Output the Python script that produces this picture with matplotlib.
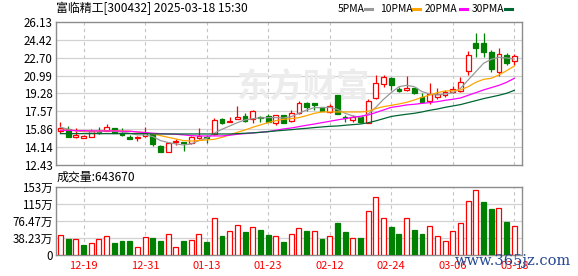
import matplotlib
matplotlib.use('Agg')
import matplotlib.pyplot as plt
from matplotlib.lines import Line2D

plt.rcParams['font.family'] = ['Noto Sans CJK SC', 'DejaVu Sans']

# trading days shown in the chart
dates = ['12-16', '12-17', '12-18', '12-19', '12-20', '12-23', '12-24', '12-25', '12-26', '12-27',
         '12-30', '12-31', '01-02', '01-03', '01-06', '01-07', '01-08', '01-09', '01-10', '01-13',
         '01-14', '01-15', '01-16', '01-17', '01-20', '01-21', '01-22', '01-23', '01-24', '01-27',
         '02-05', '02-06', '02-07', '02-10', '02-11', '02-12', '02-13', '02-14', '02-17', '02-18',
         '02-19', '02-20', '02-21', '02-24', '02-25', '02-26', '02-27', '02-28', '03-03', '03-04',
         '03-05', '03-06', '03-07', '03-10', '03-11', '03-12', '03-13', '03-14', '03-17', '03-18']

opens = [15.66, 15.87, 15.10, 15.07, 15.17, 15.61, 15.74, 15.96, 15.55, 15.14,
         15.01, 15.23, 15.42, 14.28, 13.71, 14.69, 14.63, 14.53, 15.07, 15.10,
         15.39, 16.85, 16.60, 16.88, 17.14, 16.85, 17.04, 17.17, 16.44, 17.26,
         16.69, 17.39, 18.41, 18.34, 17.96, 17.55, 19.14, 17.07, 16.76, 17.04,
         16.50, 18.82, 20.16, 20.79, 19.68, 19.62, 19.84, 18.98, 18.54, 18.92,
         19.17, 19.43, 19.55, 21.46, 24.10, 24.10, 23.27, 21.36, 22.98, 22.35]
highs = [16.60, 16.18, 15.96, 15.33, 15.87, 16.06, 16.37, 15.96, 15.96, 15.33,
         15.26, 16.06, 15.49, 14.34, 14.69, 14.98, 14.66, 15.26, 16.03, 15.33,
         16.98, 16.92, 17.07, 18.09, 17.39, 17.71, 17.11, 17.30, 17.23, 17.26,
         17.71, 18.60, 18.50, 18.41, 18.00, 18.28, 19.14, 17.23, 17.23, 17.07,
         18.76, 21.05, 21.05, 20.89, 19.93, 20.95, 19.84, 19.30, 20.25, 19.77,
         19.62, 20.00, 20.89, 23.33, 25.02, 25.02, 23.43, 23.59, 23.11, 23.05]
lows = [15.49, 15.15, 15.08, 15.01, 15.15, 15.42, 15.66, 15.53, 15.26, 14.91,
        14.79, 15.17, 14.28, 13.72, 13.67, 14.34, 13.83, 14.44, 14.94, 14.60,
        15.33, 16.41, 16.53, 16.85, 16.53, 16.44, 16.60, 16.53, 16.31, 16.44,
        16.60, 17.30, 17.65, 17.71, 17.62, 17.39, 17.33, 16.60, 16.60, 16.44,
        16.44, 18.76, 19.93, 19.62, 19.39, 19.52, 19.24, 18.41, 18.28, 18.76,
        18.92, 19.30, 19.46, 21.05, 22.80, 22.80, 21.36, 20.95, 22.00, 22.00]
closes = [16.03, 15.17, 15.36, 15.20, 15.68, 15.49, 16.06, 15.55, 15.33, 14.98,
          15.10, 15.49, 14.47, 13.74, 14.60, 14.79, 14.53, 15.10, 15.20, 15.01,
          16.76, 16.47, 16.69, 17.01, 16.69, 17.65, 16.95, 16.60, 17.20, 16.44,
          17.39, 18.41, 18.03, 18.22, 17.65, 18.09, 17.33, 16.98, 17.07, 16.57,
          18.57, 20.31, 20.82, 20.09, 19.52, 19.77, 19.30, 18.50, 19.24, 19.24,
          19.46, 19.71, 20.38, 22.92, 23.65, 23.27, 21.59, 23.02, 22.22, 22.86]

# volume in 万, with the colour shown for each volume bar (1 = red, 0 = green)
volumes = [44, 35, 35, 21, 26, 34, 41, 27, 30.5, 30.5,
           16, 39, 37, 30.5, 46.6, 18, 30.5, 33, 46.6, 28,
           82.6, 42, 52.8, 66.5, 51, 62, 56, 44, 41, 28,
           46, 59.6, 53.4, 53, 35, 41, 70, 51, 36.7, 37,
           98.6, 130.7, 82.6, 62.6, 47, 82.6, 56, 47, 65, 42,
           30.5, 53.4, 71.8, 121.6, 144.5, 117.7, 101.6, 105.5, 74, 64.37]
vol_up = [1, 0, 1, 0, 1, 1, 1, 0, 0, 0,
          1, 1, 0, 0, 1, 1, 0, 1, 1, 0,
          1, 0, 1, 1, 0, 1, 0, 0, 1, 0,
          1, 1, 0, 1, 0, 1, 0, 0, 1, 0,
          1, 1, 1, 0, 0, 1, 0, 0, 1, 1,
          1, 1, 1, 1, 1, 0, 0, 1, 0, 1]

ma5 = [16.06, 15.87, 15.71, 15.64, 15.61, 15.61, 15.71, 15.68, 15.61, 15.49,
       15.33, 15.33, 15.17, 14.79, 14.60, 14.47, 14.37, 14.47, 14.79, 15.01,
       15.49, 15.87, 16.18, 16.50, 16.76, 16.88, 16.95, 16.98, 16.98, 16.95,
       17.07, 17.39, 17.71, 17.93, 17.93, 17.96, 17.77, 17.39, 17.14, 17.01,
       17.33, 17.96, 18.73, 19.36, 19.93, 20.06, 19.93, 19.46, 19.24, 19.14,
       19.24, 19.36, 19.77, 20.57, 21.36, 22.16, 22.54, 22.73, 22.67, 22.57]
ma10 = [15.80, 15.77, 15.74, 15.71, 15.71, 15.71, 15.74, 15.74, 15.71, 15.68,
        15.61, 15.55, 15.42, 15.26, 15.10, 14.94, 14.79, 14.75, 14.79, 14.85,
        14.91, 15.10, 15.33, 15.58, 15.80, 16.06, 16.28, 16.50, 16.69, 16.82,
        16.88, 16.98, 17.17, 17.39, 17.52, 17.52, 17.52, 17.52, 17.52, 17.52,
        17.58, 17.84, 18.03, 18.15, 18.28, 18.44, 18.66, 18.92, 19.14, 19.36,
        19.52, 19.55, 19.62, 19.93, 20.35, 20.63, 20.73, 21.05, 21.46, 21.90]
ma20 = [15.77, 15.77, 15.74, 15.74, 15.71, 15.71, 15.71, 15.71, 15.68, 15.68,
        15.61, 15.55, 15.49, 15.45, 15.42, 15.39, 15.33, 15.26, 15.23, 15.23,
        15.23, 15.23, 15.30, 15.39, 15.45, 15.52, 15.58, 15.64, 15.77, 15.90,
        15.99, 16.12, 16.25, 16.37, 16.50, 16.63, 16.76, 16.88, 17.01, 17.11,
        17.23, 17.46, 17.71, 17.96, 18.06, 18.19, 18.25, 18.34, 18.41, 18.50,
        18.63, 18.73, 18.85, 19.11, 19.36, 19.62, 19.84, 20.06, 20.35, 20.73]
ma30 = [15.45, 15.45, 15.45, 15.45, 15.45, 15.45, 15.45, 15.45, 15.45, 15.45,
        15.45, 15.45, 15.42, 15.42, 15.42, 15.42, 15.42, 15.42, 15.42, 15.42,
        15.42, 15.42, 15.42, 15.45, 15.49, 15.52, 15.58, 15.64, 15.71, 15.77,
        15.83, 15.90, 15.96, 16.03, 16.09, 16.15, 16.18, 16.25, 16.31, 16.37,
        16.49, 16.67, 16.88, 17.09, 17.20, 17.30, 17.39, 17.52, 17.68, 17.80,
        17.96, 18.09, 18.22, 18.41, 18.60, 18.79, 18.95, 19.11, 19.30, 19.58]

price_ticks = [12.43, 14.14, 15.86, 17.57, 19.28, 20.99, 22.70, 24.42, 26.13]
vol_ticks = [0, 38.23, 76.47, 114.7, 152.93]
vol_tick_labels = ['0', '38.23万', '76.47万', '115万', '153万']
date_tick_idx = [3, 11, 19, 27, 35, 43, 51, 59]

RED = '#ff0000'
GREEN = '#008000'
MA_COLORS = ['#999999', '#ffa500', '#ff00ff', '#006633']
GRID = '#d2d2d2'
BORDER = '#8c8c8c'

W, H = 578, 276
fig = plt.figure(figsize=(W / 100, H / 100), dpi=100)


def px_axes(x0, y0, x1, y1):
    return fig.add_axes([x0 / W, 1 - y1 / H, (x1 - x0) / W, (y1 - y0) / H])


ax = px_axes(56, 21.7, 522.3, 165.3)
axv = px_axes(56, 186.7, 522.3, 254.5)

n = len(closes)
xs = list(range(n))
xlim = (-0.585, n - 1 + 1.04)

for a in (ax, axv):
    a.set_xlim(*xlim)
    for s in a.spines.values():
        s.set_color(BORDER)
        s.set_linewidth(1.0)
    a.tick_params(length=0, labelsize=8.3, pad=2.5, colors='black')
    for i in date_tick_idx:
        a.axvline(i, color='#c4c4c4', lw=0.8, ls=(0, (3, 3)), zorder=0)

# price panel
ax.set_ylim(price_ticks[0], price_ticks[-1])
ax.set_yticks(price_ticks)
ax.set_yticklabels([f'{t:.2f}' for t in price_ticks])
for t in price_ticks[1:-1]:
    ax.axhline(t, color=GRID, lw=0.9, zorder=0)
ax.set_xticks([])

# watermark
ax.text(0.53, 0.535, '东方财富', transform=ax.transAxes, fontsize=24, fontweight='bold',
        color='#ececec', ha='center', va='center', zorder=0.5)

for i in xs:
    o, h, l, c = opens[i], highs[i], lows[i], closes[i]
    up = c >= o
    col = RED if up else GREEN
    ax.vlines(i, l, h, color=col, lw=0.9, zorder=2)
    body = max(abs(c - o), 0.025)
    ax.bar(i, body, bottom=min(o, c), width=0.62, facecolor='white' if up else GREEN,
           edgecolor=col, linewidth=0.9, zorder=3)

for ma, col in zip([ma5, ma10, ma20, ma30], MA_COLORS):
    ax.plot(xs, ma, color=col, lw=0.9, zorder=4)

# volume panel
axv.set_ylim(vol_ticks[0], vol_ticks[-1])
axv.set_yticks(vol_ticks)
axv.set_yticklabels(vol_tick_labels)
for t in vol_ticks[1:-1]:
    axv.axhline(t, color=GRID, lw=0.9, zorder=0)
for i in xs:
    col = RED if vol_up[i] else GREEN
    axv.bar(i, volumes[i], width=0.64, facecolor='white' if vol_up[i] else GREEN,
            edgecolor=col, linewidth=0.9, zorder=3)
axv.set_xticks(date_tick_idx)
axv.set_xticklabels([dates[i] for i in date_tick_idx], color=RED, fontsize=8)
axv.tick_params(axis='x', pad=5, labelcolor=RED)

# header texts
fig.text(56 / W, 1 - 8.5 / H, '富临精工[300432] 2025-03-18 15:30', fontsize=8.6,
         ha='left', va='center')
legend_items = [('5PMA', 338, 365), ('10PMA', 380, 413), ('20PMA', 425, 460), ('30PMA', 472, 505)]
for (label, tx, lx), col in zip(legend_items, MA_COLORS):
    fig.text(tx / W, 1 - 9 / H, label, fontsize=7.4, ha='left', va='center')
    fig.add_artist(Line2D([lx / W, (lx + 6.5) / W], [1 - 9 / H, 1 - 9 / H],
                          color=col, lw=2.2, transform=fig.transFigure))

fig.text(57 / W, 1 - 177.5 / H, '成交量:643670', fontsize=8.6, ha='left', va='center')

# site watermark
fig.text(513 / W, 1 - 261.5 / H, 'www.365jz.com', fontsize=10.5, family='DejaVu Serif',
         color='#23478f', ha='center', va='center', zorder=10)

fig.savefig('out.png', dpi=100)
